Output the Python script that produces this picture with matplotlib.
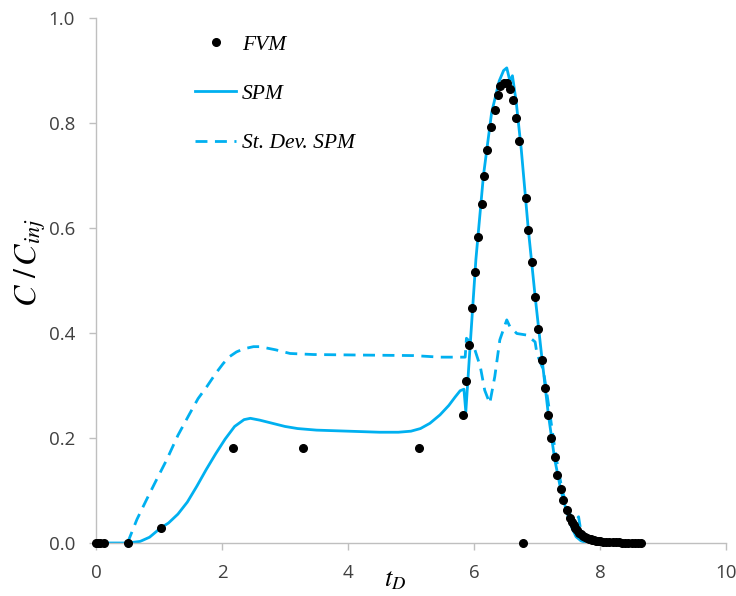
import matplotlib.pyplot as plt

plt.rcParams['mathtext.fontset'] = 'stix'

# FVM points (t_D, C/C_inj)
fvm_t = [0.0, 0.03, 0.07, 0.12, 0.50, 1.03, 2.17, 3.28, 5.12, 5.82, 5.87, 5.92, 5.97, 6.01,
         6.07, 6.12, 6.16, 6.21, 6.27, 6.33, 6.38, 6.42, 6.47, 6.52, 6.57, 6.62, 6.67, 6.72,
         6.77, 6.82, 6.86, 6.92, 6.97, 7.02, 7.08, 7.13, 7.18, 7.23, 7.28, 7.32, 7.38, 7.42,
         7.47, 7.52, 7.55, 7.58, 7.61, 7.64, 7.67, 7.70, 7.73, 7.76, 7.79, 7.82, 7.85, 7.88,
         7.91, 7.94, 7.97, 8.00, 8.05, 8.10, 8.15, 8.20, 8.25, 8.30, 8.35, 8.40, 8.45, 8.50,
         8.55, 8.60, 8.65]
fvm_c = [0.0, 0.0, 0.0, 0.0, 0.0, 0.029, 0.181, 0.181, 0.181, 0.244, 0.309, 0.377, 0.448, 0.517,
         0.582, 0.645, 0.700, 0.749, 0.792, 0.825, 0.853, 0.870, 0.877, 0.877, 0.865, 0.843, 0.810, 0.766,
         0.0, 0.658, 0.597, 0.535, 0.469, 0.407, 0.349, 0.295, 0.243, 0.200, 0.163, 0.129, 0.103, 0.081,
         0.063, 0.047, 0.040, 0.034, 0.029, 0.024, 0.020, 0.017, 0.014, 0.012, 0.010, 0.008, 0.007, 0.006,
         0.005, 0.004, 0.003, 0.003, 0.002, 0.002, 0.001, 0.001, 0.001, 0.001, 0.0, 0.0, 0.0, 0.0,
         0.0, 0.0, 0.0]

# SPM mean
spm_t = [0.0, 0.50, 0.70, 0.85, 1.03, 1.15, 1.30, 1.45, 1.60, 1.75, 1.90, 2.05, 2.20, 2.35,
         2.45, 2.60, 2.80, 3.00, 3.20, 3.50, 4.00, 4.50, 4.80, 5.00, 5.15, 5.30, 5.46, 5.60,
         5.70, 5.78, 5.84, 5.87, 5.93, 6.03, 6.15, 6.28, 6.40, 6.47, 6.52, 6.57, 6.61, 6.67,
         6.75, 6.86, 6.97, 7.08, 7.18, 7.28, 7.38, 7.47, 7.55, 7.62, 7.70, 7.80]
spm_c = [0.0, 0.0, 0.003, 0.011, 0.029, 0.038, 0.055, 0.078, 0.108, 0.140, 0.170, 0.198, 0.222, 0.235,
         0.2375, 0.234, 0.228, 0.222, 0.218, 0.215, 0.213, 0.211, 0.211, 0.213, 0.218, 0.228, 0.244, 0.262,
         0.278, 0.290, 0.293, 0.250, 0.360, 0.540, 0.700, 0.820, 0.880, 0.900, 0.905, 0.880, 0.890, 0.840,
         0.750, 0.600, 0.470, 0.350, 0.245, 0.160, 0.100, 0.060, 0.030, 0.012, 0.004, 0.0]

# SPM standard deviation
sd_t = [0.50, 0.65, 0.80, 0.95, 1.12, 1.30, 1.49, 1.62, 1.76, 1.90, 2.02, 2.12, 2.23, 2.35,
        2.50, 2.60, 2.85, 3.08, 3.45, 4.20, 5.04, 5.46, 5.86, 5.88, 5.99, 6.10, 6.17, 6.25,
        6.33, 6.41, 6.52, 6.57, 6.68, 6.84, 6.97, 7.00, 7.10, 7.20, 7.30, 7.40, 7.50, 7.60,
        7.66, 7.70]
sd_c = [0.0, 0.045, 0.082, 0.118, 0.158, 0.205, 0.247, 0.275, 0.298, 0.323, 0.342, 0.355, 0.364, 0.370,
        0.374, 0.374, 0.368, 0.361, 0.359, 0.358, 0.357, 0.354, 0.354, 0.390, 0.377, 0.336, 0.291, 0.266,
        0.317, 0.387, 0.425, 0.412, 0.399, 0.396, 0.383, 0.360, 0.330, 0.250, 0.165, 0.100, 0.060, 0.040,
        0.050, 0.020]

x_ticks = [0, 2, 4, 6, 8, 10]
y_ticks = [0.0, 0.2, 0.4, 0.6, 0.8, 1.0]

blue = '#00B0F0'
grey = '#BFBFBF'

fig = plt.figure(figsize=(7.36, 5.96), dpi=100)
ax = fig.add_axes([96/736, 53/596, 630/736, 525/596])

ax.plot(sd_t, sd_c, color=blue, lw=2.0, dashes=(4.3, 2.7), label='St. Dev. SPM')
ax.plot(spm_t, spm_c, color=blue, lw=2.0, label='SPM')
ax.plot(fvm_t, fvm_c, 'o', color='black', ms=5.5, label='FVM', clip_on=False, zorder=5)

ax.set_xlim(0, 10)
ax.set_ylim(0, 1.0)
ax.set_xticks(x_ticks)
ax.set_yticks(y_ticks)
ax.set_yticklabels(['%.1f' % v for v in y_ticks])
for s in ['top', 'right']:
    ax.spines[s].set_visible(False)
for s in ['left', 'bottom']:
    ax.spines[s].set_color(grey)
    ax.spines[s].set_linewidth(1.0)
ax.tick_params(colors=grey, labelcolor='#404040', length=5, width=1.0,
               labelsize=13.5, pad=10)
for lab in ax.get_xticklabels() + ax.get_yticklabels():
    lab.set_family('Open Sans')

ax.set_xlabel(r'$t_D$', fontsize=19, va='center')
ax.xaxis.set_label_coords(0.475, -0.07)
ax.set_ylabel(r'$C\ /\,C_{inj}$', fontsize=23, va='center')
ax.yaxis.set_label_coords(-0.105, 0.535)

handles, labels = ax.get_legend_handles_labels()
order = [2, 1, 0]
leg = ax.legend([handles[i] for i in order], [labels[i] for i in order],
                loc='upper left', bbox_to_anchor=(0.127, 1.005), frameon=False,
                labelspacing=1.35, handlelength=1.9, handletextpad=0.25,
                prop={'family': 'Liberation Serif', 'style': 'italic', 'size': 15.5})

fig.savefig('out.png', dpi=100)
